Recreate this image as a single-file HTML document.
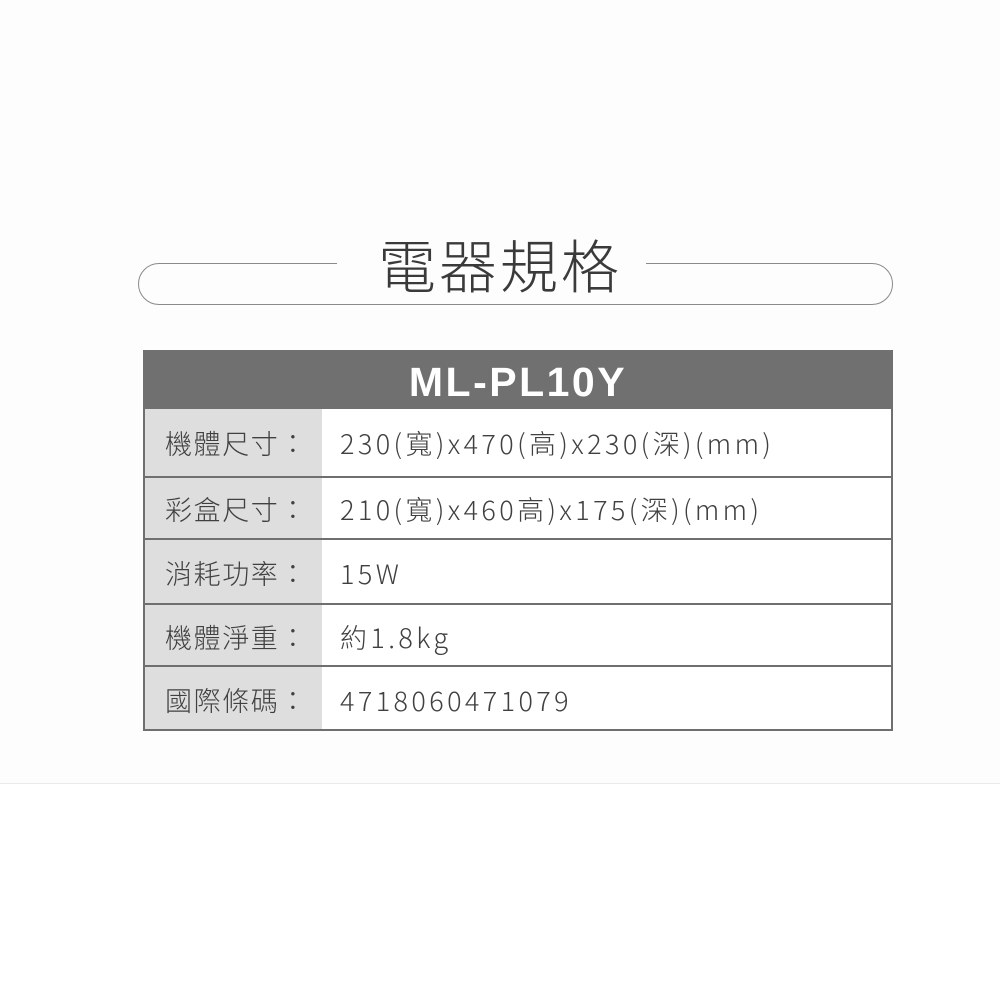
<!DOCTYPE html>
<html><head><meta charset="utf-8"><style>
html,body{margin:0;padding:0;}
body{width:1000px;height:1000px;position:relative;background:#fff;font-family:"Noto Sans CJK TC","Liberation Sans",sans-serif;overflow:hidden;}
.bgtop{position:absolute;left:0;top:0;width:1000px;height:783px;background:#fdfdfd;border-bottom:1px solid #eaeaea;}
.pill{position:absolute;left:138px;top:263px;width:753px;height:40px;border:1.5px solid #8a8a8a;border-radius:22px;}
.gap{position:absolute;left:337px;top:258px;width:309px;height:10px;background:#fdfdfd;}
.title{position:absolute;left:0;width:1000px;top:224px;text-align:center;font-size:58px;font-weight:300;color:#3a3a3a;letter-spacing:3px;line-height:78px;}
.tbl{position:absolute;left:143px;top:350px;width:746px;height:379px;border:2px solid #6f6f6f;border-top:none;background:#fff;}
.hdr{position:absolute;left:143px;top:350px;width:750px;height:59px;background:#707070;color:#fff;font-family:"Liberation Sans",sans-serif;font-weight:bold;font-size:41px;text-align:center;line-height:64px;letter-spacing:2.5px;}
.row{position:absolute;left:145px;width:746px;border-bottom:2px solid #6f6f6f;}
.lab{position:absolute;left:0;top:0;bottom:0;width:177px;background:#dedede;}
.t{position:absolute;font-size:27px;color:#404040;font-weight:300;letter-spacing:1.6px;white-space:nowrap;}
.v{letter-spacing:3.4px;}
</style></head><body>
<div class="bgtop"></div>
<div class="pill"></div>
<div class="gap"></div>
<div class="title">電器規格</div>
<div class="tbl"></div>
<div class="hdr">ML-PL10Y</div>
<div class="row" style="top:409px;height:67px"><div class="lab"></div></div>
<div class="row" style="top:478px;height:60px"><div class="lab"></div></div>
<div class="row" style="top:540px;height:63px"><div class="lab"></div></div>
<div class="row" style="top:605px;height:60px"><div class="lab"></div></div>
<div class="row" style="top:667px;height:62px;border-bottom:none"><div class="lab"></div></div>
<div class="t" style="left:165px;top:423px">機體尺寸：</div><div class="t v" style="left:340px;top:423px">230(寬)x470(高)x230(深)(mm)</div>
<div class="t" style="left:165px;top:489px">彩盒尺寸：</div><div class="t v" style="left:340px;top:489px">210(寬)x460高)x175(深)(mm)</div>
<div class="t" style="left:165px;top:553px">消耗功率：</div><div class="t v" style="left:340px;top:553px">15W</div>
<div class="t" style="left:165px;top:617px">機體淨重：</div><div class="t v" style="left:340px;top:617px">約1.8kg</div>
<div class="t" style="left:165px;top:680px">國際條碼：</div><div class="t v" style="left:340px;top:680px">4718060471079</div>
</body></html>
